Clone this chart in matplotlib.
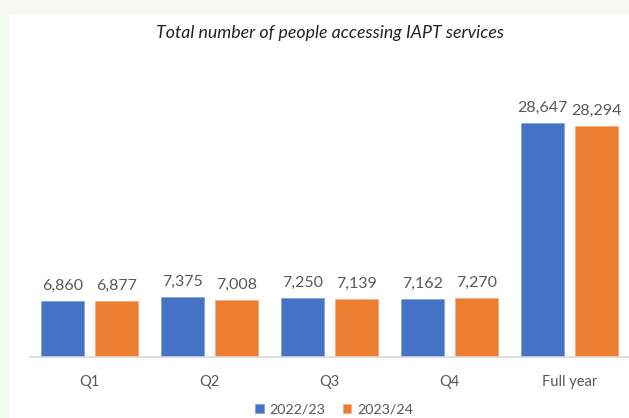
import numpy as np
import matplotlib.pyplot as plt
from matplotlib.patches import Rectangle

plt.rcParams['font.family'] = ['Lato', 'DejaVu Sans']

categories = ["Q1", "Q2", "Q3", "Q4", "Full year"]
series_names = ["2022/23", "2023/24"]
values_2223 = [6860, 7375, 7250, 7162, 28647]
values_2324 = [6877, 7008, 7139, 7270, 28294]

BLUE = "#4472c4"
ORANGE = "#ed7d31"
LABEL_GREY = "#595959"

fig = plt.figure(figsize=(6.29, 4.18), dpi=100)
fig.patch.set_facecolor("#f3f8f1")

# white chart panel
fig.add_artist(Rectangle((9 / 629, 0), 1, 1 - 14 / 418, transform=fig.transFigure,
                         facecolor="white", edgecolor="none", zorder=0))

ax = fig.add_axes([29.5 / 629, 1 - 357 / 418, 600 / 629, 261 / 418])
ax.set_facecolor("none")

x = np.arange(len(categories))
width = 0.358
offset = 0.225

b1 = ax.bar(x - offset, values_2223, width, color=BLUE, label=series_names[0],
            edgecolor="#7f9fd8", linewidth=0.5)
b2 = ax.bar(x + offset, values_2324, width, color=ORANGE, label=series_names[1],
            edgecolor="#f3a97a", linewidth=0.5)

for bars in (b1, b2):
    for rect in bars:
        v = rect.get_height()
        ax.annotate(f"{v:,.0f}", (rect.get_x() + rect.get_width() / 2, v),
                    xytext=(0, 8), textcoords="offset points",
                    ha="center", va="baseline", fontsize=11.5, color=LABEL_GREY)

ax.set_xlim(-0.5, len(categories) - 0.5)
ax.set_ylim(0, 32000)
ax.set_xticks(x)
ax.set_xticklabels(categories, fontsize=10.5, color=LABEL_GREY)
ax.tick_params(axis="x", length=0, pad=13)
ax.set_yticks([])
for side in ("top", "right", "left"):
    ax.spines[side].set_visible(False)
ax.spines["bottom"].set_color("#d9d9d9")
ax.spines["bottom"].set_linewidth(1.2)

fig.text(330 / 629, 1 - 33 / 418, "Total number of people accessing IAPT services",
         ha="center", va="center", fontsize=12.8, style="italic", color="#222222")

fig.legend(handles=[b1, b2], labels=series_names, loc="center",
           bbox_to_anchor=(334 / 629, 1 - 410 / 418), ncol=2, frameon=False,
           fontsize=10.3, handlelength=0.6, handleheight=0.6, handletextpad=0.4,
           columnspacing=1.2, labelcolor=LABEL_GREY)

fig.savefig("out.png", dpi=100, facecolor=fig.get_facecolor())
